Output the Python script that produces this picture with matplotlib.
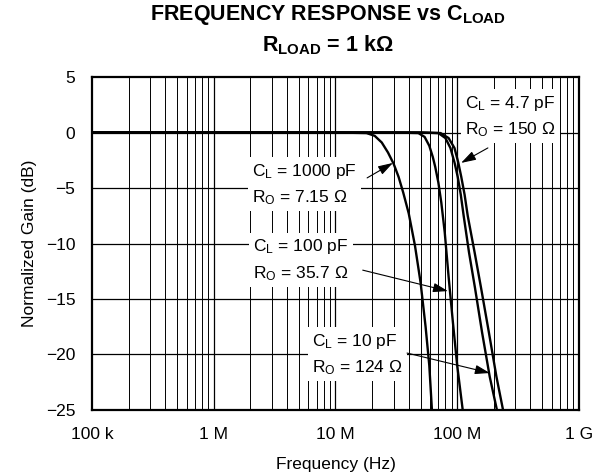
import matplotlib
matplotlib.use('Agg')
import matplotlib.pyplot as plt
import numpy as np

plt.rcParams['font.family'] = ['Liberation Sans', 'DejaVu Sans']
plt.rcParams['mathtext.fontset'] = 'custom'
plt.rcParams['mathtext.rm'] = 'Liberation Sans'
plt.rcParams['mathtext.it'] = 'Liberation Sans:italic'
plt.rcParams['mathtext.bf'] = 'Liberation Sans:bold'

# curves (frequency in Hz, gain in dB)
freq_1000 = [1e5, 1e7, 18e6, 21e6, 24e6, 27e6, 30e6, 33e6, 36e6, 40e6, 45e6, 50e6, 55e6, 59e6, 62e6]
gain_1000 = [0, 0, -0.05, -0.3, -0.9, -1.8, -2.8, -4, -5.4, -7.3, -10.2, -13.5, -17.5, -21, -25]
freq_100 = [1e5, 3e7, 48e6, 54e6, 59e6, 63e6, 66e6, 70e6, 74e6, 79e6, 85e6, 92e6, 100e6, 111e6]
gain_100 = [0, 0, -0.05, -0.4, -1.2, -2.2, -3.1, -4.5, -6.3, -9, -13, -17, -21, -25]
freq_10 = [1e5, 5e7, 70e6, 80e6, 88e6, 95e6, 101e6, 107e6, 113e6, 125e6, 140e6, 160e6, 185e6, 212e6]
gain_10 = [0, 0, -0.05, -0.5, -1.4, -2.7, -4, -5.6, -7.5, -10.8, -14, -18, -22, -25]
freq_4p7 = [1e5, 5e7, 73e6, 85e6, 95e6, 102e6, 108e6, 115e6, 122e6, 139e6, 157e6, 182e6, 210e6, 238e6]
gain_4p7 = [0, 0, -0.05, -0.5, -1.4, -2.7, -4, -5.6, -7.5, -10.8, -14, -18, -22, -25]

xticks = [1e5, 1e6, 1e7, 1e8, 1e9]
xticklabels = ['100 k', '1 M', '10 M', '100 M', '1 G']
yticks = [5, 0, -5, -10, -15, -20, -25]
yticklabels = ['5', '0', '\u22125', '\u221210', '\u221215', '\u221220', '\u221225']

fig = plt.figure(figsize=(5.93, 4.73), dpi=100)
ax = fig.add_axes([0.1551, 0.1332, 0.8212, 0.704])

for f, g in [(freq_1000, gain_1000), (freq_100, gain_100), (freq_10, gain_10), (freq_4p7, gain_4p7)]:
    ax.plot(f, g, color='black', lw=1.7, zorder=4, solid_capstyle='butt', solid_joinstyle='round')

ax.set_xscale('log')
ax.set_xlim(1e5, 1e9)
ax.set_ylim(-25, 5)

# grid: every 1..9 per decade, every 5 dB
for dec in [1e5, 1e6, 1e7, 1e8]:
    for m in range(2, 10):
        ax.axvline(dec * m, color='black', lw=0.7, zorder=1)
for d in [1e6, 1e7, 1e8]:
    ax.axvline(d, color='black', lw=0.9, zorder=1)
for y in [0, -5, -10, -15, -20]:
    ax.axhline(y, color='black', lw=0.9, zorder=1)

ax.set_xticks(xticks)
ax.set_xticklabels(xticklabels)
ax.set_xticks([], minor=True)
ax.set_yticks(yticks)
ax.set_yticklabels(yticklabels)
ax.tick_params(axis='both', length=0, labelsize=12.5)
ax.tick_params(axis='x', pad=12)
ax.tick_params(axis='y', pad=12)
for s in ax.spines.values():
    s.set_linewidth(1.6)

ax.set_xlabel('Frequency (Hz)', fontsize=12.5, labelpad=11)
ax.set_ylabel('Normalized Gain (dB)', fontsize=12.5, labelpad=6)

fig.text(0.553, 0.968, r'FREQUENCY RESPONSE vs C$_{\mathbf{LOAD}}$', ha='center', va='center',
         fontsize=15.5, fontweight='bold')
fig.text(0.553, 0.905, r'R$_{\mathbf{LOAD}}$ = 1 k$\mathbf{\Omega}$', ha='center', va='center',
         fontsize=15.5, fontweight='bold')

box = dict(facecolor='white', edgecolor='none', pad=3)
notes = [
    ('C$_\\mathrm{L}$ = 4.7 pF\nR$_\\mathrm{O}$ = 150 \u03a9', (0.767, 0.881), (0.813, 0.787), (0.758, 0.742)),
    ('C$_\\mathrm{L}$ = 1000 pF\nR$_\\mathrm{O}$ = 7.15 \u03a9', (0.329, 0.677), (0.565, 0.697), (0.618, 0.742)),
    ('C$_\\mathrm{L}$ = 100 pF\nR$_\\mathrm{O}$ = 35.7 \u03a9', (0.331, 0.450), (0.556, 0.420), (0.731, 0.357)),
    ('C$_\\mathrm{L}$ = 10 pF\nR$_\\mathrm{O}$ = 124 \u03a9', (0.452, 0.167), (0.647, 0.171), (0.817, 0.111)),
]
for txt, pos, tail, tip in notes:
    ax.text(pos[0], pos[1], txt, transform=ax.transAxes, ha='left', va='center',
            fontsize=12.5, linespacing=1.55, bbox=box, zorder=3)
    ax.annotate('', xy=tip, xytext=tail, xycoords='axes fraction', textcoords='axes fraction',
                arrowprops=dict(arrowstyle='-|>,head_length=0.9,head_width=0.28', color='black', lw=0.8,
                                shrinkA=0, shrinkB=0), zorder=5)

fig.savefig('out.png', dpi=100)
